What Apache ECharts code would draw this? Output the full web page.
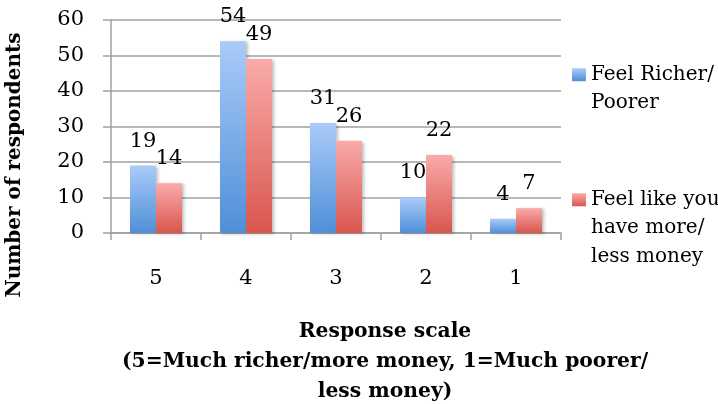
<!DOCTYPE html>
<html><head><meta charset="utf-8">
<script src="https://cdn.jsdelivr.net/npm/echarts@6/dist/echarts.min.js"></script>
<style>html,body{margin:0;padding:0;background:#fff}#c{width:718px;height:404px}</style>
</head><body><div id="c"></div>
<script>
const categories = ['5', '4', '3', '2', '1'];
const richerPoorer = [19, 54, 31, 10, 4];
const moreLessMoney = [14, 49, 26, 22, 7];
const seriesNames = ['Feel Richer/\nPoorer', 'Feel like you\nhave more/\nless money'];
const yAxisTitle = 'Number of respondents';
const xAxisTitle = 'Response scale\n(5=Much richer/more money, 1=Much poorer/\nless money)';

const FONT = 'DejaVu Serif';
const grad = (top, bottom) => new echarts.graphic.LinearGradient(0, 0, 0, 1, [
  {offset: 0, color: top}, {offset: 1, color: bottom}
]);
const blue = grad('#aacbf8', '#4f8fd8');
const red = grad('#f9abaa', '#d9564e');
const LH = 28.5;

const chart = echarts.init(document.getElementById('c'), null, {renderer: 'canvas'});
chart.setOption({
  animation: false,
  backgroundColor: '#fff',
  textStyle: {fontFamily: FONT},
  grid: {left: 111, right: 157, top: 20, bottom: 171, containLabel: false},
  xAxis: {
    type: 'category',
    data: categories,
    axisLine: {lineStyle: {color: '#a0a0a0', width: 1.5}},
    axisTick: {show: true, length: 7, lineStyle: {color: '#a0a0a0', width: 1.5}},
    axisLabel: {margin: 35, fontSize: 21, color: '#000', fontFamily: FONT}
  },
  yAxis: {
    type: 'value',
    min: 0, max: 60, interval: 10,
    axisLine: {show: true, lineStyle: {color: '#a0a0a0', width: 1.5}},
    axisTick: {show: true, length: 8, lineStyle: {color: '#a0a0a0', width: 1.5}},
    splitLine: {lineStyle: {color: '#a0a0a0', width: 1.5}},
    axisLabel: {margin: 27, fontSize: 21, color: '#000', fontFamily: FONT}
  },
  legend: {
    orient: 'vertical',
    left: 572, top: 32,
    itemWidth: 14, itemHeight: 13,
    itemGap: 11,
    icon: 'rect',
    padding: 0,
    textStyle: {fontSize: 20, lineHeight: LH, color: '#000', fontFamily: FONT},
    formatter: name => ' \n'.repeat(name.split('\n').length - 1) + name,
    data: seriesNames
  },
  series: [
    {
      name: seriesNames[0], type: 'bar', data: richerPoorer,
      barWidth: 26, barGap: '0%',
      itemStyle: {color: blue, shadowBlur: 3, shadowOffsetX: 2, shadowOffsetY: 1, shadowColor: 'rgba(0,0,0,0.25)'},
      label: {show: true, position: 'top', distance: 14, fontSize: 21, color: '#000', fontFamily: FONT}
    },
    {
      name: seriesNames[1], type: 'bar', data: moreLessMoney,
      barWidth: 26, barGap: '0%',
      itemStyle: {color: red, shadowBlur: 3, shadowOffsetX: 2, shadowOffsetY: 1, shadowColor: 'rgba(0,0,0,0.25)'},
      label: {show: true, position: 'top', distance: 14, fontSize: 21, color: '#000', fontFamily: FONT}
    }
  ],
  graphic: [
    {
      type: 'text', x: 15, y: 165, rotation: Math.PI / 2,
      style: {text: yAxisTitle, font: 'bold 20px "DejaVu Serif"', fill: '#000', align: 'center', verticalAlign: 'middle'}
    },
    {
      type: 'text', x: 385, y: 317,
      style: {text: xAxisTitle, font: 'bold 20.3px "DejaVu Serif"', lineHeight: 30, fill: '#000', align: 'center', verticalAlign: 'top'}
    }
  ]
});
</script></body></html>
